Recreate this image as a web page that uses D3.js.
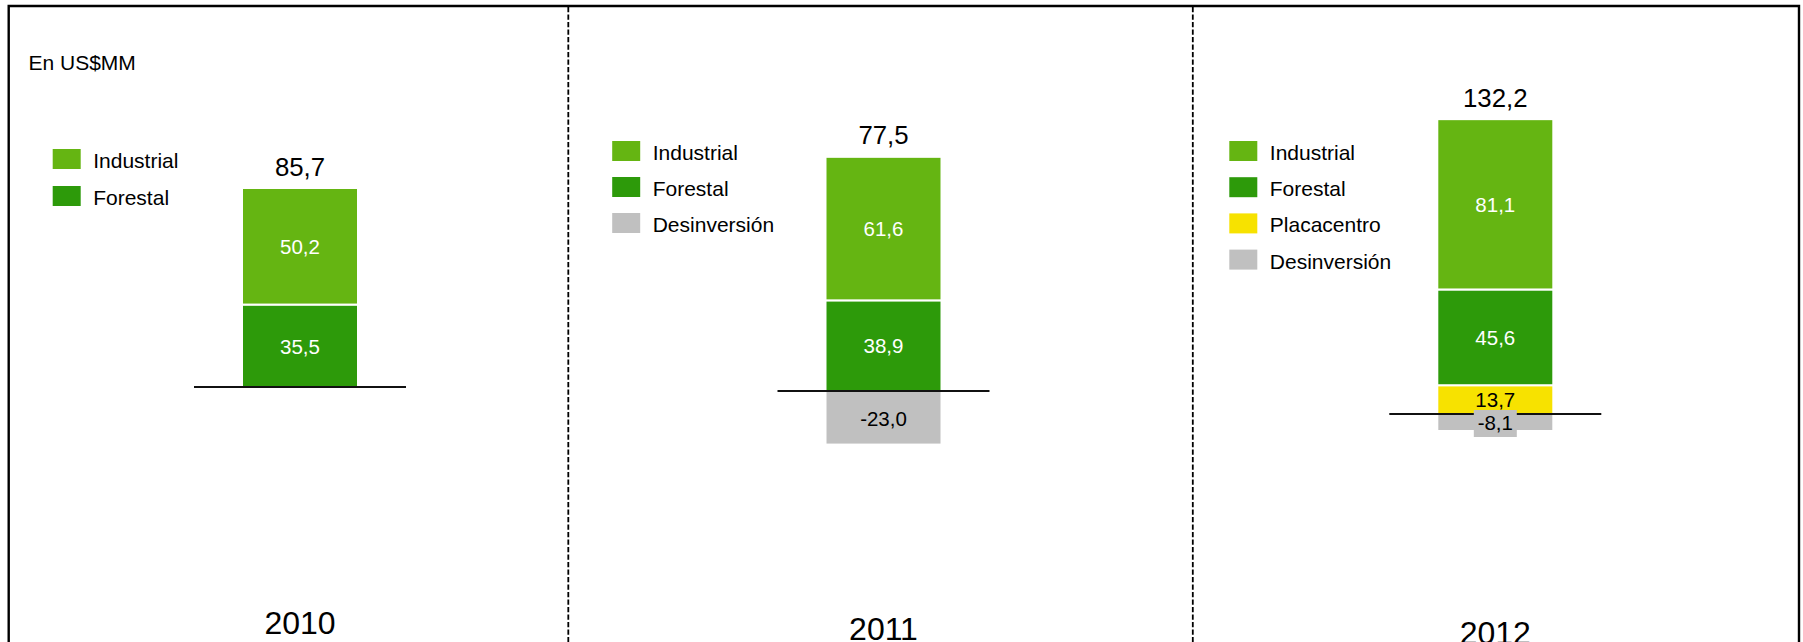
<!DOCTYPE html>
<html>
<head>
<meta charset="utf-8">
<script src="https://cdn.jsdelivr.net/npm/d3@7"></script>
<style>
  html, body { margin: 0; padding: 0; background: #fff; }
  svg { display: block; }
  text { font-family: "Liberation Sans", Arial, sans-serif; }
</style>
</head>
<body>
<svg id="chart" width="1803" height="642"></svg>
<script>
// Inversiones por año (US$ millones)
const years        = ["2010", "2011", "2012"];
const industrial   = [50.2, 61.6, 81.1];
const forestal     = [35.5, 38.9, 45.6];
const placacentro  = [null, null, 13.7];
const desinversion = [null, -23.0, -8.1];
const totals       = [85.7, 77.5, 132.2];
const unitLabel    = "En US$MM";

const seriesNames  = ["Industrial", "Forestal", "Placacentro", "Desinversión"];
const seriesColors = ["#65b512", "#2d9a0a", "#f7e200", "#c0c0c0"];
const seriesValues = [industrial, forestal, placacentro, desinversion];
// stacking order from the zero line upward
const positiveOrder = ["Placacentro", "Forestal", "Industrial"];

// Panel layout: each year is drawn as its own small chart
const panels = [
  { center: 300.0, zero: 387, pxPerUnit: 2.322, legendX: 52.7, legendY: 149, legendStep: 37.0, yearBase: 634.0 },
  { center: 883.5, zero: 391, pxPerUnit: 2.330, legendX: 612.2, legendY: 141, legendStep: 36.0, yearBase: 640.0 },
  { center: 1495.3, zero: 414, pxPerUnit: 2.100, legendX: 1229.3, legendY: 141, legendStep: 36.2, yearBase: 643.5 }
];

const barWidth = 114;
const axisHalf = 106;

const fmt = d3.formatLocale({ decimal: ",", thousands: ".", grouping: [3], currency: ["US$", ""], minus: "-" }).format(".1f");
const color = d3.scaleOrdinal().domain(seriesNames).range(seriesColors);
const xCenter = d3.scaleOrdinal().domain(years).range(panels.map(p => p.center));

const svg = d3.select("#chart");

// outer frame (bottom edge falls outside the view)
svg.append("path")
  .attr("d", "M8.7,660 V6 H1799 V660")
  .attr("fill", "none")
  .attr("stroke", "#000")
  .attr("stroke-width", 2.4);

// dashed separators between years
[568.3, 1192.8].forEach(x => {
  svg.append("line")
    .attr("x1", x).attr("x2", x)
    .attr("y1", 7).attr("y2", 642)
    .attr("stroke", "#000")
    .attr("stroke-width", 1.8)
    .attr("stroke-dasharray", "5.2,2.3");
});

svg.append("text")
  .attr("x", 28.5).attr("y", 70)
  .attr("font-size", 21)
  .attr("fill", "#000")
  .text(unitLabel);

years.forEach((year, i) => {
  const p = panels[i];
  const g = svg.append("g");
  const cx = xCenter(year);

  const y = d3.scaleLinear()
    .domain([0, 100])
    .range([p.zero, p.zero - 100 * p.pxPerUnit]);

  const present = seriesNames.filter((n, k) => seriesValues[k][i] != null);

  // legend
  present.forEach((name, j) => {
    const ly = p.legendY + j * p.legendStep;
    g.append("rect")
      .attr("x", p.legendX).attr("y", ly)
      .attr("width", 28).attr("height", 20)
      .attr("fill", color(name));
    g.append("text")
      .attr("x", p.legendX + 40.5).attr("y", ly + 19)
      .attr("font-size", 21)
      .attr("fill", "#000")
      .text(name);
  });

  // positive stack
  const segs = [];
  let acc = 0;
  positiveOrder.forEach(name => {
    const v = seriesValues[seriesNames.indexOf(name)][i];
    if (v == null) return;
    segs.push({ name, v, y0: acc, y1: acc + v });
    acc += v;
  });
  const neg = desinversion[i];
  if (neg != null) segs.push({ name: "Desinversión", v: neg, y0: neg, y1: 0 });

  g.selectAll("rect.seg")
    .data(segs)
    .join("rect")
    .attr("class", "seg")
    .attr("x", cx - barWidth / 2 - 1)
    .attr("width", barWidth + 2)
    .attr("y", d => y(d.y1))
    .attr("height", d => y(d.y0) - y(d.y1))
    .attr("fill", d => color(d.name))
    .attr("stroke", "#fff")
    .attr("stroke-width", 2);

  // zero line
  g.append("line")
    .attr("x1", cx - axisHalf).attr("x2", cx + axisHalf)
    .attr("y1", y(0)).attr("y2", y(0))
    .attr("stroke", "#111")
    .attr("stroke-width", 2);

  // segment labels
  segs.forEach(d => {
    const mid = (y(d.y0) + y(d.y1)) / 2;
    const dark = d.name === "Industrial" || d.name === "Forestal";
    if (d.name === "Desinversión") {
      g.append("rect")
        .attr("x", cx - 21.5).attr("y", mid - 12.5)
        .attr("width", 43).attr("height", 27)
        .attr("fill", color(d.name));
    }
    g.append("text")
      .attr("x", cx).attr("y", mid + 7.8)
      .attr("text-anchor", "middle")
      .attr("font-size", 20.5)
      .attr("fill", dark ? "#fff" : "#000")
      .text(fmt(d.v));
  });

  // total above the bar
  g.append("text")
    .attr("x", cx).attr("y", y(acc) - 12.5)
    .attr("text-anchor", "middle")
    .attr("font-size", 25.8)
    .attr("fill", "#000")
    .text(fmt(totals[i]));

  // year label
  g.append("text")
    .attr("x", cx).attr("y", p.yearBase)
    .attr("text-anchor", "middle")
    .attr("font-size", 32)
    .attr("fill", "#000")
    .text(year);
});
</script>
</body>
</html>
